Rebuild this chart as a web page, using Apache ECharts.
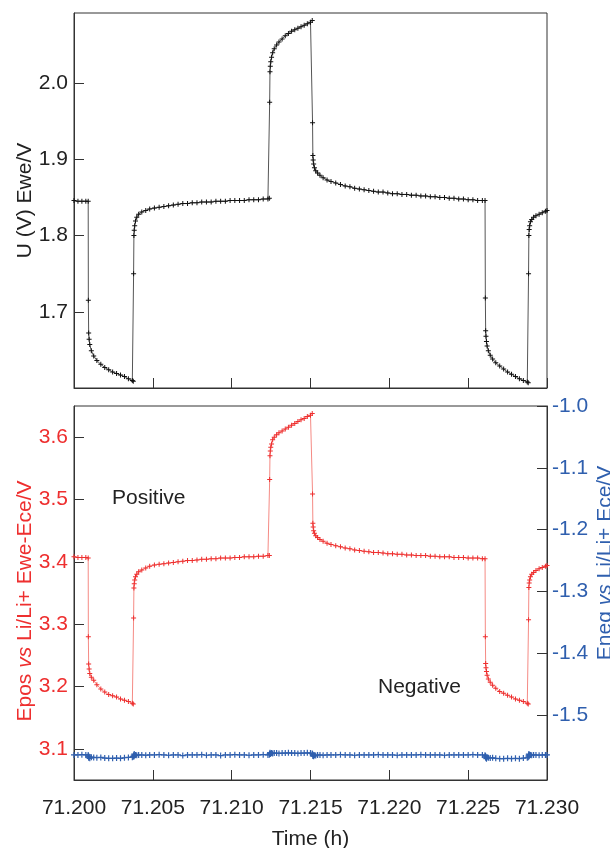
<!DOCTYPE html>
<html>
<head>
<meta charset="utf-8">
<script src="https://cdn.jsdelivr.net/npm/echarts@6/dist/echarts.min.js"></script>
<style>
html,body{margin:0;padding:0;background:#fff;}
#chart{width:610px;height:848px;}
</style>
</head>
<body>
<div id="chart"></div>
<script>
// Time (h)
const times = [
  // rest
  71.20000, 71.20025, 71.20050, 71.20075, 71.20090,
  // pulse down
  71.20091, 71.20093, 71.20096, 71.20100, 71.20110, 71.20125, 71.20145, 71.20170, 71.20195, 71.20220, 71.20245, 71.20270, 71.20295, 71.20320, 71.20345, 71.20370, 71.20376,
  // rest
  71.20378, 71.20380, 71.20382, 71.20385, 71.20390, 71.20398, 71.20410, 71.20430, 71.20455, 71.20480, 71.20510, 71.20540, 71.20570, 71.20600, 71.20630, 71.20660, 71.20690, 71.20720, 71.20750, 71.20780, 71.20810, 71.20840, 71.20870, 71.20900, 71.20930, 71.20960, 71.20990, 71.21020, 71.21050, 71.21080, 71.21110, 71.21140, 71.21170, 71.21200, 71.21230, 71.21239,
  // pulse up
  71.21241, 71.21243, 71.21245, 71.21248, 71.21253, 71.21260, 71.21270, 71.21285, 71.21300, 71.21320, 71.21340, 71.21360, 71.21380, 71.21400, 71.21420, 71.21440, 71.21460, 71.21480, 71.21500, 71.21511,
  // rest
  71.21513, 71.21515, 71.21517, 71.21520, 71.21525, 71.21533, 71.21545, 71.21560, 71.21580, 71.21605, 71.21630, 71.21660, 71.21690, 71.21720, 71.21750, 71.21780, 71.21810, 71.21840, 71.21870, 71.21900, 71.21930, 71.21960, 71.21990, 71.22020, 71.22050, 71.22080, 71.22110, 71.22140, 71.22170, 71.22200, 71.22230, 71.22260, 71.22290, 71.22320, 71.22350, 71.22380, 71.22410, 71.22440, 71.22470, 71.22500, 71.22530, 71.22560, 71.22590, 71.22607,
  // pulse down
  71.22609, 71.22611, 71.22613, 71.22616, 71.22620, 71.22628, 71.22640, 71.22655, 71.22675, 71.22700, 71.22725, 71.22750, 71.22775, 71.22800, 71.22825, 71.22850, 71.22875, 71.22881,
  // rest
  71.22883, 71.22885, 71.22887, 71.22890, 71.22895, 71.22903, 71.22915, 71.22930, 71.22950, 71.22970, 71.22990, 71.23000
];

// U (V) Ewe/V
const uEwe = [
  1.846, 1.845, 1.845, 1.845, 1.845,
  1.715, 1.672, 1.664, 1.657, 1.649, 1.642, 1.636, 1.631, 1.627, 1.624, 1.621, 1.619, 1.617, 1.615, 1.612, 1.610, 1.609,
  1.750, 1.800, 1.807, 1.813, 1.819, 1.824, 1.828, 1.831, 1.833, 1.835, 1.836, 1.837, 1.838, 1.839, 1.840, 1.841, 1.842, 1.842, 1.843, 1.843, 1.844, 1.844, 1.844, 1.845, 1.845, 1.845, 1.846, 1.846, 1.846, 1.846, 1.847, 1.847, 1.847, 1.848, 1.848, 1.849,
  1.975, 2.015, 2.022, 2.028, 2.034, 2.040, 2.045, 2.050, 2.054, 2.058, 2.062, 2.065, 2.068, 2.070, 2.072, 2.074, 2.076, 2.078, 2.080, 2.082,
  1.948, 1.905, 1.899, 1.894, 1.889, 1.885, 1.882, 1.879, 1.876, 1.873, 1.871, 1.869, 1.867, 1.865, 1.864, 1.862, 1.861, 1.860, 1.859, 1.858, 1.857, 1.857, 1.856, 1.855, 1.855, 1.854, 1.854, 1.853, 1.853, 1.852, 1.852, 1.851, 1.851, 1.850, 1.850, 1.849, 1.849, 1.848, 1.848, 1.847, 1.847, 1.846, 1.846, 1.846,
  1.718, 1.675, 1.668, 1.661, 1.655, 1.649, 1.643, 1.638, 1.633, 1.629, 1.625, 1.621, 1.618, 1.615, 1.612, 1.610, 1.608, 1.607,
  1.750, 1.800, 1.808, 1.813, 1.818, 1.821, 1.824, 1.826, 1.828, 1.830, 1.832, 1.833
];

// Epos vs Li/Li+ Ewe-Ece/V
const ePos = [
  3.408, 3.407, 3.407, 3.407, 3.406,
  3.280, 3.236, 3.228, 3.221, 3.215, 3.210, 3.203, 3.196, 3.191, 3.187, 3.185, 3.183, 3.180, 3.178, 3.176, 3.173, 3.172,
  3.310, 3.358, 3.365, 3.371, 3.376, 3.380, 3.384, 3.387, 3.390, 3.393, 3.395, 3.396, 3.397, 3.398, 3.399, 3.400, 3.401, 3.402, 3.402, 3.403, 3.404, 3.404, 3.405, 3.405, 3.406, 3.406, 3.406, 3.407, 3.407, 3.408, 3.408, 3.408, 3.409, 3.409, 3.410, 3.410,
  3.532, 3.570, 3.578, 3.584, 3.589, 3.596, 3.600, 3.604, 3.607, 3.610, 3.613, 3.616, 3.619, 3.622, 3.625, 3.628, 3.630, 3.633, 3.635, 3.638,
  3.509, 3.462, 3.456, 3.450, 3.446, 3.442, 3.439, 3.436, 3.433, 3.430, 3.428, 3.426, 3.424, 3.422, 3.421, 3.419, 3.418, 3.417, 3.416, 3.415, 3.415, 3.414, 3.413, 3.413, 3.412, 3.412, 3.411, 3.411, 3.410, 3.410, 3.410, 3.409, 3.409, 3.408, 3.408, 3.408, 3.407, 3.407, 3.407, 3.406, 3.406, 3.406, 3.405, 3.405,
  3.280, 3.237, 3.230, 3.224, 3.218, 3.212, 3.207, 3.202, 3.197, 3.192, 3.189, 3.186, 3.183, 3.180, 3.178, 3.176, 3.173, 3.172,
  3.307, 3.359, 3.366, 3.371, 3.376, 3.380, 3.383, 3.386, 3.389, 3.391, 3.393, 3.394
];

// Eneg vs Li/Li+ Ece/V
const eNeg = [
  -1.5645, -1.5645, -1.5640, -1.5645, -1.5645,
  -1.5665, -1.5690, -1.5675, -1.5700, -1.5680, -1.5685, -1.5690, -1.5685, -1.5695, -1.5700, -1.5700, -1.5695, -1.5700, -1.5690, -1.5685, -1.5680, -1.5670,
  -1.5650, -1.5670, -1.5630, -1.5655, -1.5645, -1.5650, -1.5645, -1.5645, -1.5650, -1.5645, -1.5645, -1.5640, -1.5645, -1.5650, -1.5645, -1.5645, -1.5655, -1.5645, -1.5645, -1.5645, -1.5640, -1.5650, -1.5645, -1.5645, -1.5655, -1.5645, -1.5645, -1.5640, -1.5645, -1.5645, -1.5650, -1.5645, -1.5645, -1.5640, -1.5645, -1.5640,
  -1.5625, -1.5610, -1.5630, -1.5620, -1.5615, -1.5620, -1.5615, -1.5615, -1.5620, -1.5615, -1.5615, -1.5610, -1.5615, -1.5615, -1.5620, -1.5615, -1.5615, -1.5610, -1.5615, -1.5620,
  -1.5630, -1.5660, -1.5645, -1.5665, -1.5650, -1.5655, -1.5645, -1.5645, -1.5650, -1.5645, -1.5645, -1.5645, -1.5640, -1.5645, -1.5645, -1.5650, -1.5645, -1.5645, -1.5645, -1.5645, -1.5640, -1.5645, -1.5645, -1.5645, -1.5650, -1.5645, -1.5645, -1.5645, -1.5645, -1.5640, -1.5645, -1.5645, -1.5645, -1.5645, -1.5650, -1.5645, -1.5645, -1.5645, -1.5645, -1.5645, -1.5640, -1.5645, -1.5645, -1.5650,
  -1.5660, -1.5690, -1.5675, -1.5705, -1.5680, -1.5690, -1.5695, -1.5690, -1.5700, -1.5705, -1.5705, -1.5700, -1.5705, -1.5700, -1.5705, -1.5695, -1.5690, -1.5680,
  -1.5650, -1.5630, -1.5665, -1.5640, -1.5645, -1.5650, -1.5645, -1.5645, -1.5650, -1.5645, -1.5645, -1.5645
];

const xTicks = [71.200, 71.205, 71.210, 71.215, 71.220, 71.225, 71.230];
const uTicks = [1.7, 1.8, 1.9, 2.0];
const posTicks = [3.1, 3.2, 3.3, 3.4, 3.5, 3.6];
const negTicks = [-1.5, -1.4, -1.3, -1.2, -1.1, -1.0];

const FONT = 'Liberation Sans, Arial, sans-serif';
const FS = 21;
const RED = '#ee2f2f';
const BLUE = '#2f5fae';
const PLUS = 'path://M2,0H3V2H5V3H3V5H2V3H0V2H2Z';

const pair = (ys) => times.map((t, i) => [t, ys[i]]);

const chart = echarts.init(document.getElementById('chart'), null, {renderer: 'canvas'});

const xCommon = {
  type: 'value', min: 71.200, max: 71.230,
  axisLine: {show: true, lineStyle: {color: '#333', width: 1}},
  axisTick: {show: true, inside: true, length: 10, customValues: xTicks, lineStyle: {color: '#333'}},
  splitLine: {show: false}
};

chart.setOption({
  animation: false,
  grid: [
    {left: 74, right: 63, top: 13, height: 375, show: true, borderColor: '#333', borderWidth: 1, containLabel: false, outerBoundsMode: 'none'},
    {left: 74, right: 63, top: 406, height: 374, show: true, borderColor: '#333', borderWidth: 1, containLabel: false, outerBoundsMode: 'none'}
  ],
  xAxis: [
    Object.assign({}, xCommon, {gridIndex: 0, axisLabel: {show: false}}),
    Object.assign({}, xCommon, {
      gridIndex: 1,
      axisLabel: {show: true, customValues: xTicks, margin: 18, fontSize: FS, color: '#222', fontFamily: FONT,
        formatter: v => v.toFixed(3)},
      name: 'Time (h)', nameLocation: 'middle', nameGap: 49, nameMoveOverlap: false,
      nameTextStyle: {fontSize: FS, color: '#222', fontFamily: FONT}
    })
  ],
  yAxis: [
    {
      type: 'value', gridIndex: 0, min: 1.6, max: 2.092,
      axisLine: {show: true, lineStyle: {color: '#333'}},
      axisTick: {show: true, inside: true, length: 10, customValues: uTicks, lineStyle: {color: '#333'}},
      axisLabel: {customValues: uTicks, margin: 6, fontSize: FS, color: '#222', fontFamily: FONT, formatter: v => v.toFixed(1)},
      splitLine: {show: false},
      name: 'U (V) Ewe/V', nameLocation: 'middle', nameGap: 38, nameRotate: 90, nameMoveOverlap: false,
      nameTextStyle: {fontSize: FS, color: '#222', fontFamily: FONT}
    },
    {
      type: 'value', gridIndex: 1, min: 3.05, max: 3.65,
      axisLine: {show: true, lineStyle: {color: '#333'}},
      axisTick: {show: true, inside: true, length: 10, customValues: posTicks, lineStyle: {color: '#333'}},
      axisLabel: {customValues: posTicks, margin: 6, fontSize: FS, color: RED, fontFamily: FONT, formatter: v => v.toFixed(1)},
      splitLine: {show: false},
      name: '{n|Epos }{i|vs}{n| Li/Li+ Ewe-Ece/V}', nameLocation: 'middle', nameGap: 38, nameRotate: 90, nameMoveOverlap: false,
      nameTextStyle: {fontSize: FS, color: RED, fontFamily: FONT, padding: [0, 16, 0, 0],
        rich: {n: {fontSize: FS, color: RED, fontFamily: FONT}, i: {fontSize: FS, color: RED, fontFamily: FONT, fontStyle: 'italic'}}}
    },
    {
      type: 'value', gridIndex: 1, position: 'right', min: -1.605, max: -1.0,
      axisLine: {show: true, lineStyle: {color: '#333'}},
      axisTick: {show: true, inside: true, length: 10, customValues: negTicks, lineStyle: {color: '#333'}},
      axisLabel: {customValues: negTicks, margin: 5, fontSize: FS, color: BLUE, fontFamily: FONT, formatter: v => v.toFixed(1)},
      splitLine: {show: false},
      name: '{n|Eneg }{i|vs}{n| Li/Li+ Ece/V}', nameLocation: 'middle', nameGap: 48, nameRotate: 90, nameMoveOverlap: false,
      nameTextStyle: {fontSize: FS, color: BLUE, fontFamily: FONT, padding: [0, 0, 0, 60],
        rich: {n: {fontSize: FS, color: BLUE, fontFamily: FONT}, i: {fontSize: FS, color: BLUE, fontFamily: FONT, fontStyle: 'italic'}}}
    }
  ],
  series: [
    {
      name: 'U', type: 'line', xAxisIndex: 0, yAxisIndex: 0, data: pair(uEwe),
      symbol: PLUS, symbolSize: 5, showAllSymbol: true,
      lineStyle: {color: '#555', width: 1}, itemStyle: {color: '#111'}
    },
    {
      name: 'Epos', type: 'line', xAxisIndex: 1, yAxisIndex: 1, data: pair(ePos),
      symbol: PLUS, symbolSize: 5, showAllSymbol: true,
      lineStyle: {color: '#f58a84', width: 1}, itemStyle: {color: RED}
    },
    {
      name: 'Eneg', type: 'line', xAxisIndex: 1, yAxisIndex: 2, data: pair(eNeg),
      symbol: PLUS, symbolSize: 6, showAllSymbol: true,
      lineStyle: {color: '#7a9ad0', width: 1}, itemStyle: {color: BLUE}
    }
  ],
  graphic: [
    {type: 'text', left: 112, top: 488, style: {text: 'Positive', fontSize: FS, fill: '#222', fontFamily: FONT}},
    {type: 'text', left: 378, top: 677, style: {text: 'Negative', fontSize: FS, fill: '#222', fontFamily: FONT}}
  ]
});
</script>
</body>
</html>
